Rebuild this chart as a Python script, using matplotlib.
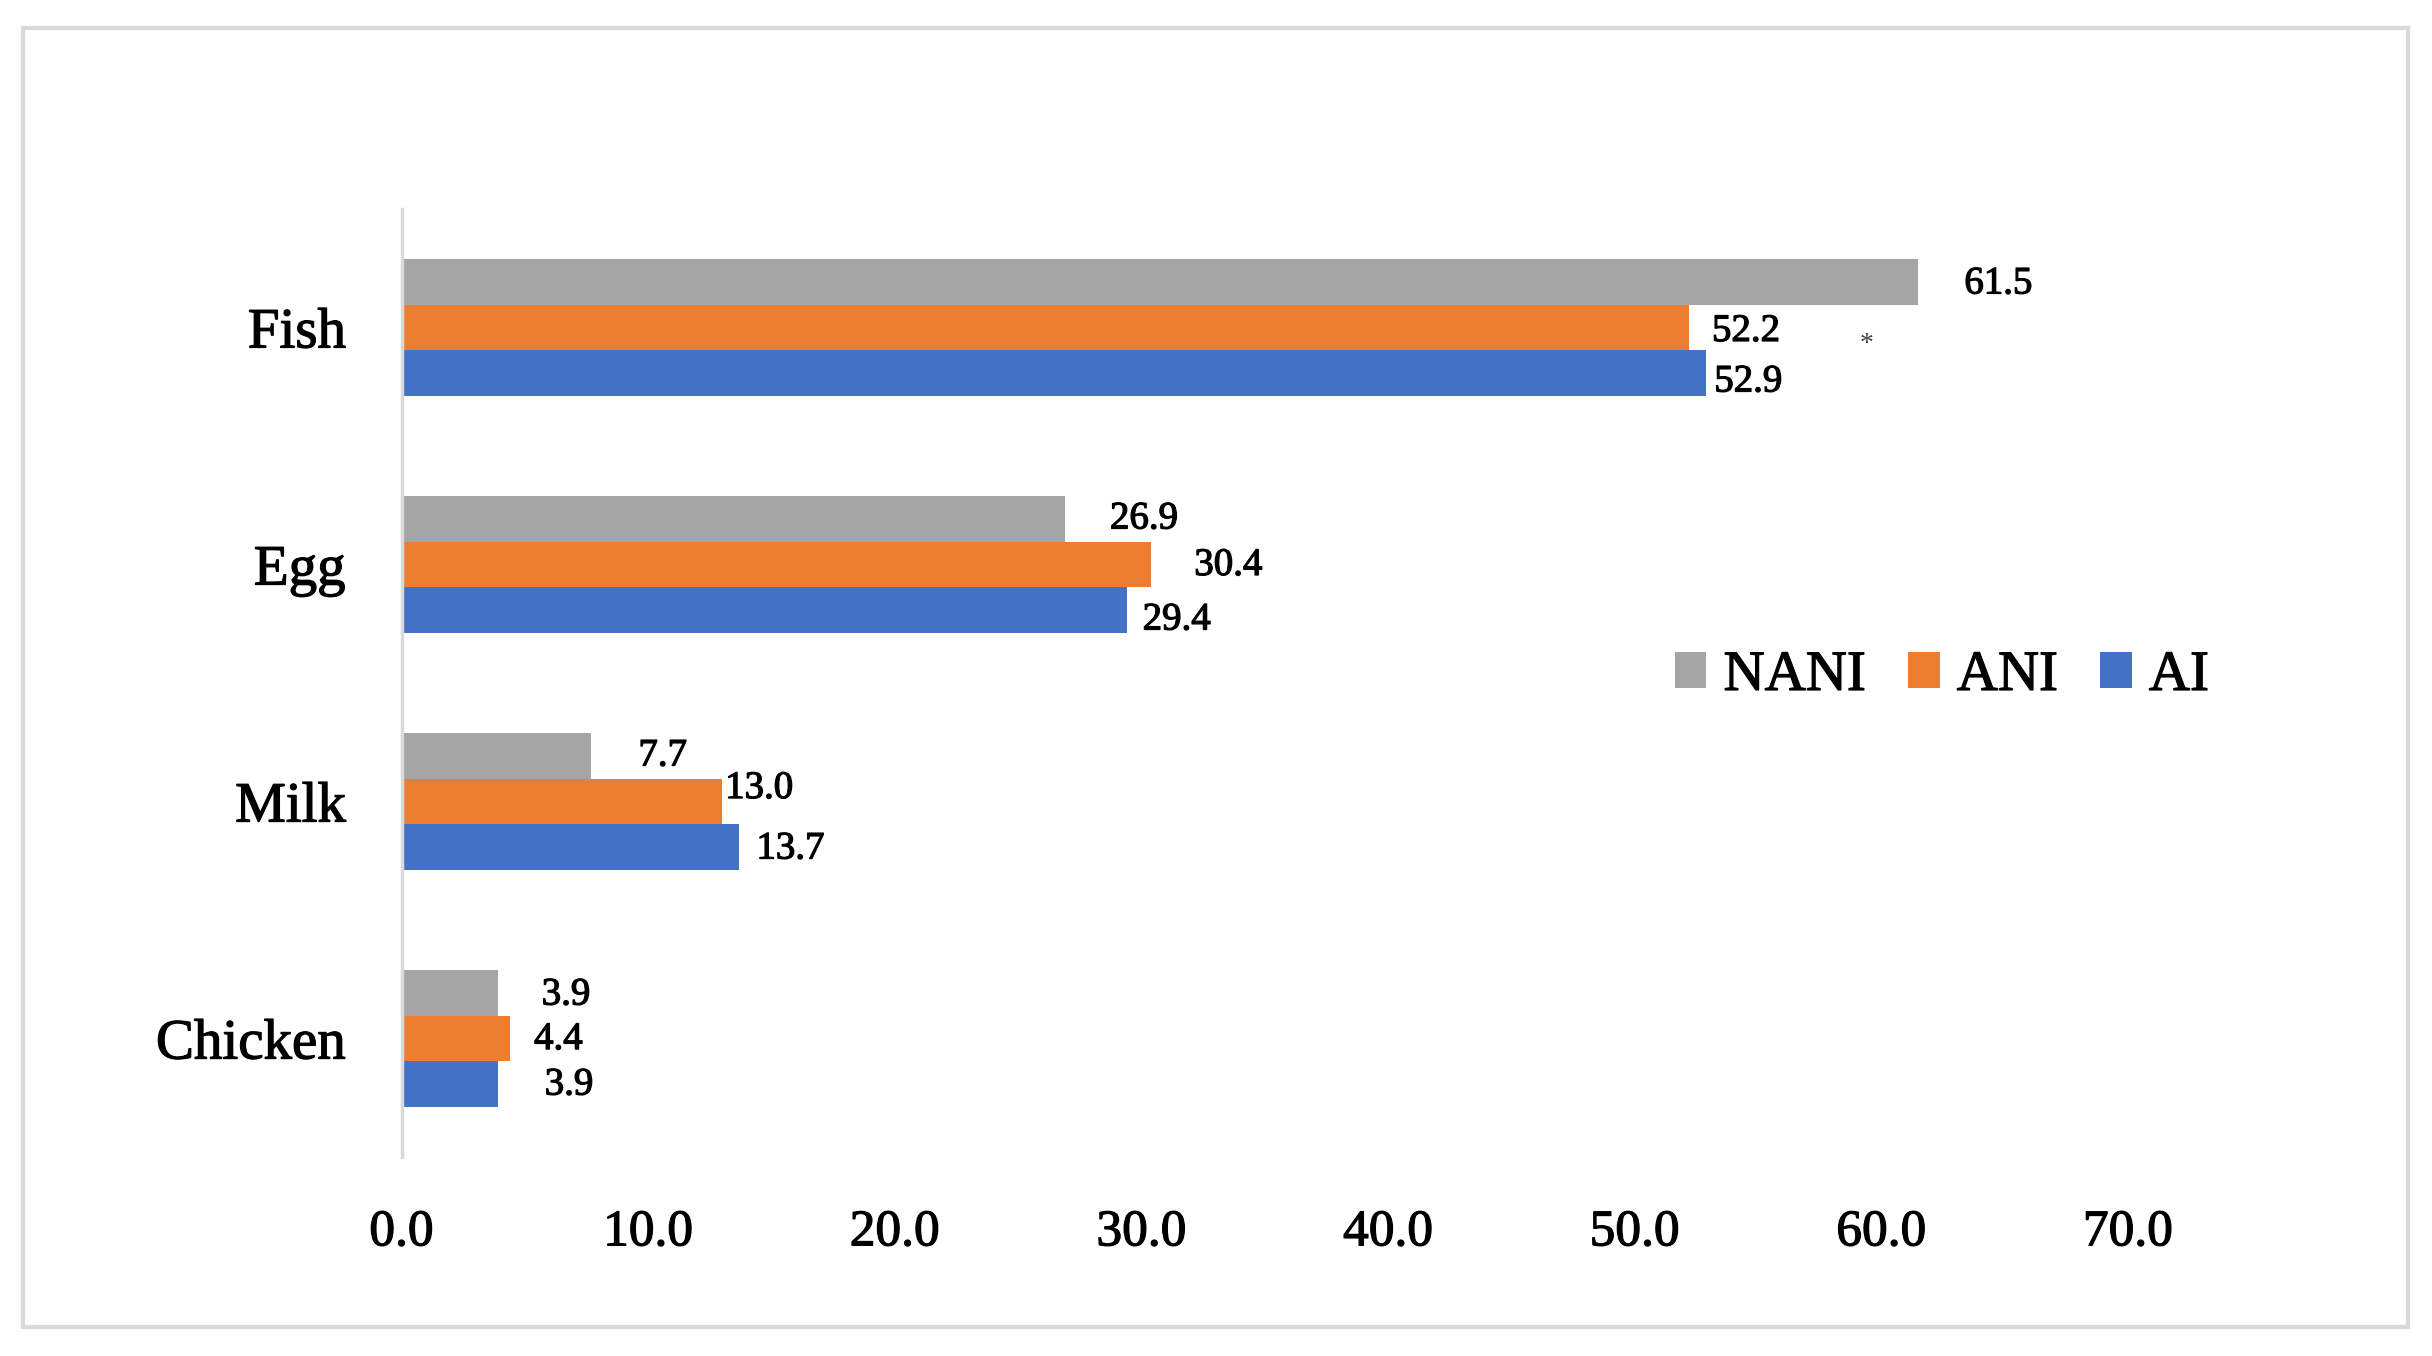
import matplotlib.pyplot as plt
import matplotlib.patheffects as pe
from matplotlib.patches import Patch, Rectangle

# data
foods = ["Fish", "Egg", "Milk", "Chicken"]
nani = [61.5, 26.9, 7.7, 3.9]
ani = [52.2, 30.4, 13.0, 4.4]
ai = [52.9, 29.4, 13.7, 3.9]
series_names = ["NANI", "ANI", "AI"]
xticks = [0, 10, 20, 30, 40, 50, 60, 70]

colors = ["#A5A5A5", "#ED7D31", "#4472C4"]

# label nudges (pixels right of bar end, pixels down from bar centre)
label_dx = [[46, 45, 47, 44], [23, 43, 3, 24], [8, 16, 17, 47]]
label_dy = [[2, 0, 0, 2], [4, 1, -13, 1], [9, 10, 2, 1]]

plt.rcParams['font.family'] = ['Liberation Serif', 'DejaVu Serif']
# slightly heavier text, like the original
heavy = [pe.withStroke(linewidth=0.9, foreground="black")]

fig = plt.figure(figsize=(24.32, 13.56), dpi=100)
ax = fig.add_axes([0.1651, 0.1467, 0.8750 - 0.1651, 0.8459 - 0.1467])

h = 0.192
ypos = [3 - i for i in range(len(foods))]
all_series = [nani, ani, ai]
for k, vals in enumerate(all_series):
    yy = [y + (1 - k) * h for y in ypos]
    ax.barh(yy, vals, height=h, color=colors[k], label=series_names[k])
    for i, v in enumerate(vals):
        ax.annotate(f"{v:.1f}", xy=(v, yy[i]),
                    xytext=(label_dx[k][i] * 0.72, -label_dy[k][i] * 0.72),
                    textcoords="offset points", ha="left", va="center",
                    fontsize=28, color="black", path_effects=heavy)

# stray asterisk in the original
ax.text(59.4, 3 - 0.07, "*", fontsize=20, ha="center", va="center", color="#404040")

ax.set_xlim(0, 70)
ax.set_ylim(-0.5, 3.5)
ax.set_xticks(xticks)
ax.set_xticklabels([f"{t:.1f}" for t in xticks])
ax.set_yticks(ypos)
ax.set_yticklabels(foods)
ax.tick_params(axis="x", length=0, pad=38, labelsize=37)
ax.tick_params(axis="y", length=0, pad=40, labelsize=41)
for lab in ax.get_xticklabels() + ax.get_yticklabels():
    lab.set_path_effects(heavy)
for s in ["top", "right", "bottom"]:
    ax.spines[s].set_visible(False)
ax.spines["left"].set_color("#D9D9D9")
ax.spines["left"].set_linewidth(2.5)

handles = [Patch(facecolor=c, edgecolor="none") for c in colors]
leg = fig.legend(handles, series_names, loc="center", bbox_to_anchor=(0.7985, 0.5015),
                 ncol=3, frameon=False, fontsize=41, handlelength=0.55, handleheight=0.6,
                 handletextpad=0.3, columnspacing=0.75)
for t in leg.get_texts():
    t.set_path_effects(heavy)

# outer border
fig.patches.append(Rectangle((23 / 2432, 1 - 1327 / 1356), (2408 - 23) / 2432, (1327 - 28) / 1356,
                             transform=fig.transFigure, fill=False,
                             edgecolor="#D9D9D9", linewidth=3))

fig.savefig("out.png", dpi=100)
